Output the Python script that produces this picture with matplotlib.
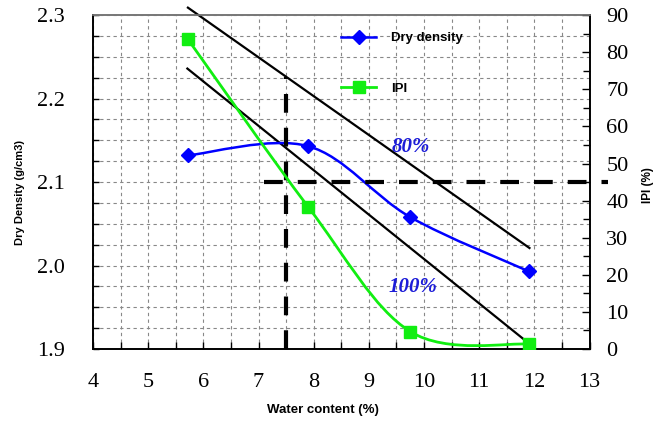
import matplotlib
matplotlib.use("Agg")
import matplotlib.pyplot as plt
import numpy as np
from matplotlib.path import Path
from matplotlib.patches import PathPatch
from matplotlib.lines import Line2D

# data
water = [5.72, 7.9, 9.75, 11.9]
dry_density = [2.132, 2.143, 2.058, 1.993]
ipi = [83.5, 38.3, 4.7, 1.3]

# saturation lines (80% and 100%)
sat80_x = [5.72, 11.91]
sat80_y = [2.309, 2.021]
sat100_x = [5.71, 11.80]
sat100_y = [2.236, 1.912]

w_opt = 7.5          # vertical dashed guide
ipi_ref = 45         # horizontal dashed guide (IPI %)
vline_top = 2.226
hline_x = [7.09, 13.33]

serif = "Liberation Serif"
sans = "Liberation Sans"


def smooth_path(xs, ys):
    # Catmull-Rom through the points, as cubic bezier segments
    pts = np.column_stack([xs, ys]).astype(float)
    ext = np.vstack([pts[0], pts, pts[-1]])
    verts = [pts[0]]
    codes = [Path.MOVETO]
    for i in range(1, len(ext) - 2):
        p0, p1, p2, p3 = ext[i - 1], ext[i], ext[i + 1], ext[i + 2]
        verts += [p1 + (p2 - p0) / 6, p2 - (p3 - p1) / 6, p2]
        codes += [Path.CURVE4] * 3
    return Path(verts, codes)


fig = plt.figure(figsize=(6.56, 4.21), dpi=100)
ax = fig.add_axes([0.1418, 0.171, 0.757, 0.793])
ax2 = ax.twinx()

# grid
ax.set_xlim(4, 13)
ax.set_ylim(1.9, 2.3)
ax.set_xticks(np.arange(4, 13.01, 1))
ax.set_xticks(np.arange(4, 13.01, 0.5), minor=True)
ax.set_yticks(np.arange(1.9, 2.301, 0.1))
ax.set_yticks(np.arange(1.9, 2.301, 0.025), minor=True)
ax.set_yticklabels(["1.9", "2.0", "2.1", "2.2", "2.3"])
ax.grid(True, which="both", color="#888888", linestyle=(0, (3, 3)), linewidth=0.8)
ax.set_axisbelow(True)

ax2.set_ylim(0, 90)
ax2.set_yticks(np.arange(0, 91, 10))
ax2.set_yticks(np.arange(0, 91, 5), minor=True)

for a in (ax, ax2):
    a.tick_params(which="both", direction="in", labelsize=16, width=1)
    for lab in a.get_xticklabels() + a.get_yticklabels():
        lab.set_fontfamily(serif)
ax.tick_params(axis="y", which="both", length=4, pad=20)
ax.tick_params(axis="x", which="major", length=5, pad=17)
ax.tick_params(axis="x", which="minor", length=5)
ax.tick_params(top=False, which="both")
ax2.tick_params(axis="y", which="major", length=6, pad=12)
ax2.tick_params(axis="y", which="minor", length=5)

for a in (ax, ax2):
    for s in a.spines.values():
        s.set_linewidth(1.2)
    a.spines["top"].set_color("#777777")

# saturation lines
ax.plot(sat80_x, sat80_y, color="black", lw=1.6, clip_on=False, zorder=3)
ax.plot(sat100_x, sat100_y, color="black", lw=1.6, clip_on=False, zorder=3)

# dry density curve
ax.add_patch(PathPatch(smooth_path(water, dry_density), fill=False,
                       edgecolor="#0000ff", lw=1.8, zorder=4))
ax.plot(water, dry_density, linestyle="none", marker="D", ms=7,
        color="#0000ff", zorder=5)

# IPI curve
ax2.add_patch(PathPatch(smooth_path(water, ipi), fill=False,
                        edgecolor="#11ee11", lw=2.0, zorder=4))
ax2.plot(water, ipi, linestyle="none", marker="s", ms=8.5,
         color="#11ee11", zorder=5)

# dashed guides
dash = (0, (4.5, 3.6))
ax.plot([w_opt, w_opt], [1.9, vline_top], color="black", lw=3,
        linestyle=dash, zorder=6, clip_on=False)
ax2.plot(hline_x, [ipi_ref, ipi_ref], color="black", lw=3,
         linestyle=dash, zorder=6, clip_on=False)

# saturation labels
ax.text(9.76, 2.142, "80%", color="#1c1cd8", fontsize=15, family=serif,
        style="italic", weight="bold", ha="center", va="center")
ax.text(9.8, 1.974, "100%", color="#1c1cd8", fontsize=15, family=serif,
        style="italic", weight="bold", ha="center", va="center")

# axis labels
ax.set_xlabel("Water content (%)", fontsize=9.5, fontweight="bold", family=sans)
ax.xaxis.set_label_coords(0.462, -0.166)
ax.set_ylabel("Dry Density (g/cm3)", fontsize=8, fontweight="bold", family=sans)
ax.yaxis.set_label_coords(-0.137, 0.47)
ax2.set_ylabel("IPI (%)", fontsize=8.5, fontweight="bold", family=sans,
               rotation=90)
ax2.yaxis.set_label_coords(1.105, 0.49)

# legend
handles = [
    Line2D([], [], color="#0000ff", lw=1.8, marker="D", ms=7),
    Line2D([], [], color="#11ee11", lw=2.0, marker="s", ms=8.5),
]
leg = ax2.legend(handles, ["Dry density", "IPI"], loc="upper left",
                 bbox_to_anchor=(0.475, 0.985), frameon=False,
                 prop={"family": sans, "weight": "bold", "size": 9.5},
                 handlelength=2.7, handletextpad=1.1, labelspacing=2.9)
leg.set_zorder(10)

fig.savefig("out.png", dpi=100)
